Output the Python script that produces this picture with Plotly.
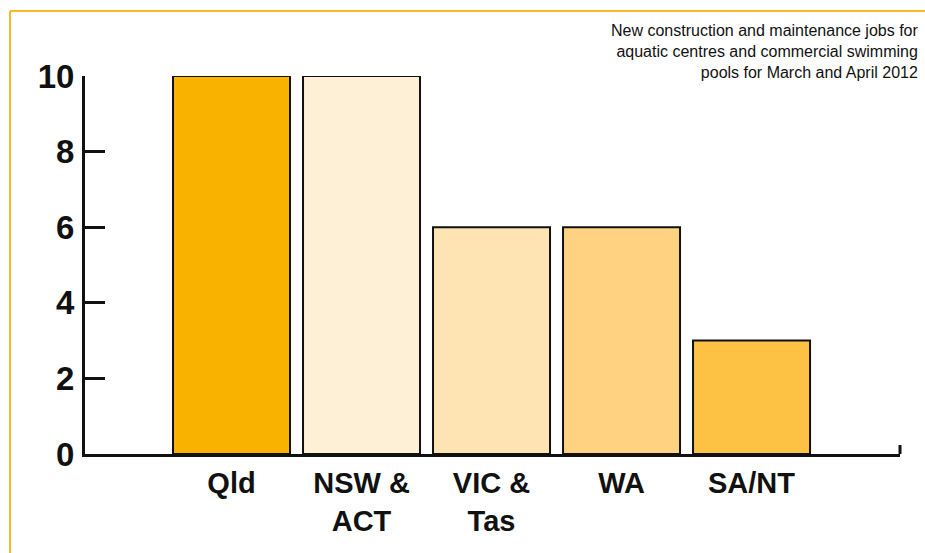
import plotly.graph_objects as go

categories = ["Qld", "NSW &<br>ACT", "VIC &<br>Tas", "WA", "SA/NT"]
jobs = [10, 10, 6, 6, 3]
bar_colors = ["#F9B200", "#FEF0D6", "#FEE3B3", "#FED281", "#FDC143"]
y_ticks = [0, 2, 4, 6, 8, 10]
title_text = ("New construction and maintenance jobs for<br>"
              "aquatic centres and commercial swimming<br>"
              "pools for March and April 2012")

W, H = 925, 553
L, R = 85, 25
T = 76
B = H - 454
pw, ph = W - L - R, H - T - B

FONT = "Liberation Sans, Arial, sans-serif"

fig = go.Figure(go.Bar(
    x=list(range(len(categories))), y=jobs,
    marker=dict(color=bar_colors, line=dict(color="#111111", width=2)),
    width=0.9,
))

def px_x(x):
    return (x - L) / pw

def px_y(y):
    return (H - B - y) / ph

shapes = [
    # orange frame
    dict(type="line", xref="paper", yref="paper", x0=px_x(10), x1=px_x(935),
         y0=px_y(11), y1=px_y(11), line=dict(color="#F9B824", width=2)),
    dict(type="line", xref="paper", yref="paper", x0=px_x(10), x1=px_x(10),
         y0=px_y(11), y1=px_y(560), line=dict(color="#F9B824", width=2)),
    # end tick on x axis
    dict(type="line", xref="paper", yref="paper", x0=1, x1=1,
         y0=0, y1=px_y(445), line=dict(color="#111111", width=3)),
]

fig.update_layout(
    width=W, height=H,
    margin=dict(l=L, r=R, t=T, b=B, pad=0),
    paper_bgcolor="white", plot_bgcolor="white",
    showlegend=False,
    font=dict(family=FONT, color="#111111"),
    xaxis=dict(
        range=[-1.127, 5.142], tickmode="array",
        tickvals=list(range(len(categories))), ticktext=categories,
        showline=True, linecolor="#111111", linewidth=3,
        ticks="", showgrid=False, zeroline=False,
        tickfont=dict(family=FONT, size=29, color="#111111", weight="bold"),
        ticklabelstandoff=1,
    ),
    yaxis=dict(
        range=[0, 10], tickmode="array", tickvals=y_ticks,
        showline=True, linecolor="#111111", linewidth=3,
        ticks="inside", ticklen=20, tickwidth=3, tickcolor="#111111",
        showgrid=False, zeroline=False,
        tickfont=dict(family=FONT, size=33, color="#111111", weight="bold"),
        ticklabelstandoff=1,
    ),
    shapes=shapes,
    annotations=[dict(
        text=title_text, xref="paper", yref="paper",
        x=px_x(921), y=px_y(20), xanchor="right", yanchor="top",
        align="right", showarrow=False,
        font=dict(family=FONT, size=16, color="#111111"),
    )],
)

fig.write_html(
    "out.html",
    config={"displayModeBar": False},
    post_script="document.body.style.margin='0';document.body.style.overflow='hidden';",
)
